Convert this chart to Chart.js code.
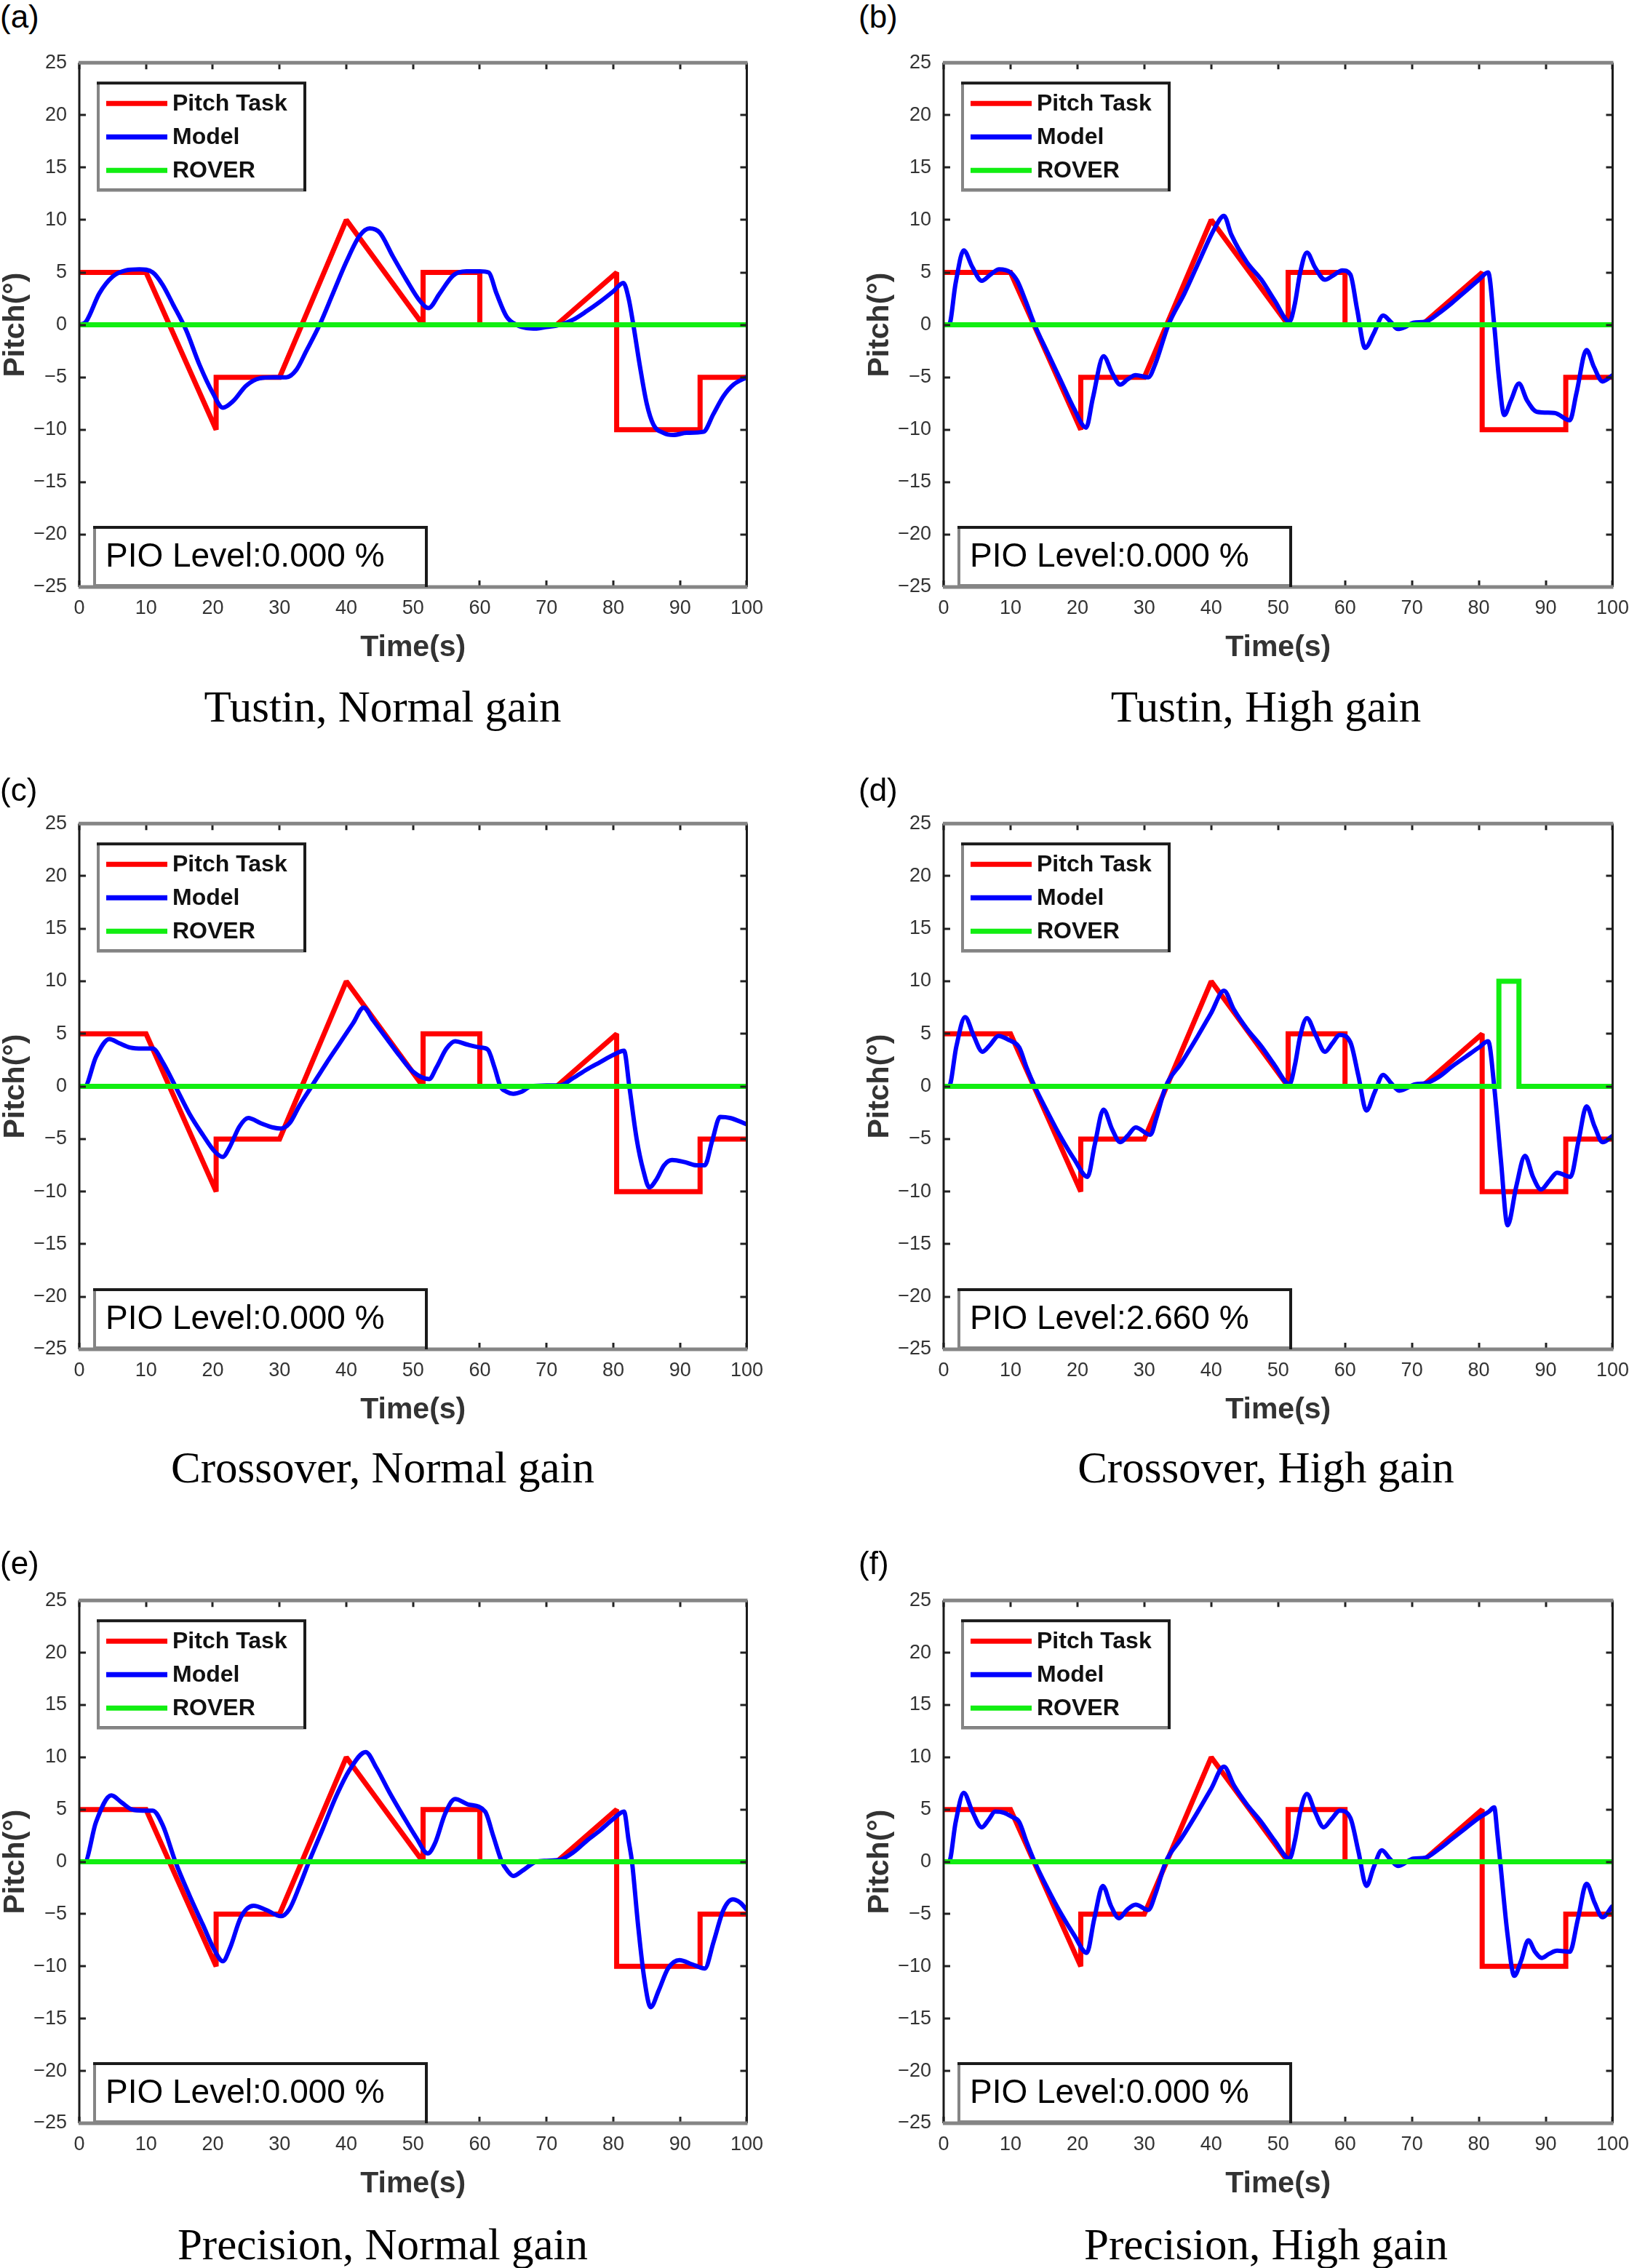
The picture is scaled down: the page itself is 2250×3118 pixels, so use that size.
<!DOCTYPE html>
<html>
<head>
<meta charset="utf-8">
<script src="https://cdn.jsdelivr.net/npm/chart.js@4.4.1/dist/chart.umd.min.js"></script>
<style>
  html, body { margin: 0; padding: 0; background: #fff; }
  #page { position: relative; width: 2250px; height: 3118px; overflow: hidden; background: #fff; }
  #page canvas { position: absolute; }
  .tag { position: absolute; font: 44px "Liberation Sans", Arial, sans-serif; line-height: 44px; color: #000; }
  .cap { position: absolute; width: 900px; text-align: center; font: 61px "Liberation Serif", "Times New Roman", serif; line-height: 61px; color: #000; }
</style>
</head>
<body>
<div id="page"></div>
<script>
// ── Ejes ──────────────────────────────────────────────────────────────────
const X_TICKS = [0, 10, 20, 30, 40, 50, 60, 70, 80, 90, 100]
const Y_TICKS = [-25, -20, -15, -10, -5, 0, 5, 10, 15, 20, 25]

// ── Señales comunes (t, grados) ───────────────────────────────────────────
const TASK = [[0,5],[10,5],[20.5,-10],[20.5,-5],[30,-5],[40,10],[51.5,0],[51.5,5],
  [60,5],[60,0],[71.5,0],[80.5,5],[80.5,-10],[93,-10],[93,-5],[100,-5]]
const ROVER_FLAT = [[0,0],[100,0]]
const ROVER_D = [[0,0],[83,0],[83,10],[86,10],[86,0],[100,0]]

// ── Respuesta del modelo, una por panel ───────────────────────────────────
const MODEL_A = [[0,0],[1,0.3],[3,3],[5,4.6],[7,5.2],[9,5.3],[11,5],[12.5,3.8],[14,2],[16,-0.5],
  [18,-3.8],[20,-6.5],[21.5,-7.9],[23,-7.3],[25,-5.8],[27,-5.1],[29,-5],[31,-5],[32.5,-4.3],[34,-2.5],
  [36,0],[38,3],[40,6],[42,8.5],[43.5,9.2],[45,8.8],[47,6.5],[49,4.3],[51,2.3],[52.3,1.6],[54,3],
  [56,4.7],[58,5.1],[60,5.1],[61.3,5],[62.5,3],[64,0.8],[65.5,0],[67,-0.3],[68.5,-0.35],[70,-0.2],
  [72,0],[74,0.5],[76,1.3],[78,2.2],[80,3.2],[81.5,4],[82.3,2.5],[83,0],[84,-4],[85,-7.5],[86,-9.5],
  [87.5,-10.3],[89,-10.5],[91,-10.3],[93.5,-10.2],[95,-8.5],[96.5,-6.8],[98,-5.7],[100,-5]]
const MODEL_B = [[0,0],[0.8,0],[1.8,4],[3,7.1],[4.3,5.5],[5.7,4.2],[7,4.8],[8.3,5.3],[10,5],[11,4.2],
  [12.3,2.2],[13.6,0],[15.5,-2.6],[17.5,-5.3],[19.5,-8],[21.3,-9.8],[22.3,-7],[23.9,-3],[25.2,-4.6],
  [26.4,-5.7],[27.5,-5.2],[28.7,-4.8],[30.6,-5],[31.6,-3.8],[33.6,0],[36,3],[38.5,6.5],[40.5,9.2],
  [41.9,10.4],[43,8.6],[45.3,6],[47.5,4.3],[49.5,2.3],[51.7,0.3],[52.5,2],[53.3,5],[54.3,6.9],
  [55.5,5.5],[57,4.3],[58.2,4.7],[59.6,5.2],[60.8,4.8],[61.8,1.5],[63,-2.2],[64.3,-0.8],[65.7,0.9],
  [66.8,0.3],[67.9,-0.4],[69,-0.2],[70.2,0.2],[72,0.3],[74,1.1],[76,2.1],[78,3.2],[80,4.3],[81.4,5],
  [82.3,0],[83,-5],[83.8,-8.6],[84.8,-7.2],[86,-5.6],[87.2,-7.2],[88.7,-8.3],[91.3,-8.4],[93.6,-9.1],
  [94.6,-6.5],[96.1,-2.4],[97.2,-4],[98.5,-5.4],[100,-4.8]]
const MODEL_C = [[0,0],[0.8,0],[2.5,2.8],[4.5,4.5],[6,4.1],[7.6,3.7],[9.5,3.6],[11,3.6],[12.5,2.3],
  [14.4,0],[16.5,-2.6],[18.5,-4.6],[20.3,-6.2],[21.5,-6.7],[22.5,-5.8],[24,-3.8],[25.3,-3],[27.2,-3.5],
  [29,-3.9],[30.2,-4],[31.5,-3.5],[33,-1.8],[34.8,0],[37,2.2],[39,4.1],[41,6],[42.6,7.5],[44,6.3],
  [46,4.6],[48,2.9],[50,1.4],[52.4,0.7],[53.5,1.8],[55,3.6],[56.3,4.3],[58,4],[60.1,3.7],[61.2,3.5],
  [62.2,1.8],[63.1,0],[64,-0.5],[65,-0.7],[66.3,-0.5],[67.6,0],[70,0.1],[72,0.1],[74,0.8],[76,1.6],
  [78,2.3],[80,3],[81.6,3.4],[82.4,0],[83.5,-5],[84.5,-8],[85.4,-9.6],[86.5,-8.8],[87.6,-7.5],
  [88.8,-7],[90.7,-7.2],[92.5,-7.5],[93.7,-7.5],[94.8,-5.2],[96,-2.9],[97.5,-3],[100,-3.6]]
const MODEL_D = [[0,0],[0.8,0],[1.9,3.8],[3.2,6.6],[4.5,4.8],[5.8,3.3],[7,4],[8.2,4.8],[9.8,4.4],
  [11.3,3.7],[12.4,1.8],[13.6,0],[15.5,-2.4],[17.5,-4.8],[19.5,-6.9],[21.5,-8.6],[22.6,-5.5],
  [23.9,-2.2],[25.2,-4.1],[26.4,-5.3],[27.5,-4.7],[28.7,-3.9],[30.9,-4.6],[31.8,-3],[33.2,0],
  [35.5,2.2],[38,4.8],[40,7],[41.9,9.1],[43.4,7.3],[45.3,5.5],[47.5,3.8],[49.5,2],[51.7,0.2],[52.5,2],
  [53.3,4.8],[54.3,6.5],[55.6,4.9],[57,3.3],[58.1,4.1],[59.2,4.9],[60.8,4.2],[62,1],[63.2,-2.3],
  [64.4,-0.6],[65.7,1.1],[66.9,0.3],[68.1,-0.4],[70.5,0.2],[72,0.3],[74,0.9],[76,1.9],[78,2.8],
  [80,3.7],[81.4,4.3],[82.3,0],[83.3,-7],[84.3,-13.2],[85.6,-9.5],[86.9,-6.6],[88.1,-8.6],[89.3,-9.8],
  [90.5,-9],[91.7,-8.2],[93.7,-8.6],[94.9,-5.2],[96.1,-1.9],[97.3,-3.8],[98.5,-5.3],[100,-4.7]]
const MODEL_E = [[0,0],[0.8,0],[2.5,3.8],[4.8,6.35],[6.3,5.7],[7.9,5],[9.5,4.9],[11,4.9],[12.5,3.5],
  [14.4,0],[16.5,-3.2],[18.5,-6],[20.3,-8.5],[21.5,-9.5],[22.6,-8.2],[24.2,-5.3],[26.1,-4.2],[28,-4.6],
  [30.2,-5.2],[31.5,-4.5],[33,-2.3],[34.4,0],[36.5,3.2],[38.5,6.3],[40.5,8.8],[42.9,10.5],[44.5,9],
  [46.5,6.6],[48.5,4.4],[50.5,2.3],[52.2,0.8],[53.3,1.8],[54.8,4.6],[56.3,6],[58.2,5.5],[60.8,4.8],
  [62,2.5],[63.3,0],[64.2,-0.9],[65,-1.35],[66.5,-0.8],[68.4,0],[70,0.1],[72,0.2],[74,0.9],[76,2],
  [78,3],[80,4.1],[81.6,4.8],[82.3,2],[82.8,0],[83.7,-6],[84.6,-11],[85.6,-13.9],[86.8,-12.3],
  [88.2,-10.2],[89.9,-9.4],[91.8,-9.8],[93.7,-10.2],[95,-7.7],[96.5,-4.6],[97.9,-3.6],[99,-3.9],[100,-4.6]]
const MODEL_F = [[0,0],[0.8,0],[1.8,3.8],[3,6.6],[4.3,4.8],[5.7,3.3],[6.7,4],[7.7,4.8],[9,4.7],
  [10.2,4.3],[11.3,3.8],[12.4,1.9],[13.6,0],[15.5,-2.5],[17.5,-4.9],[19.5,-7],[21.4,-8.7],[22.5,-5.5],
  [23.8,-2.3],[25,-4.2],[26.2,-5.4],[27.4,-4.6],[28.7,-4.1],[30.6,-4.6],[31.7,-3],[33.2,0],[35.5,2.2],
  [38,4.8],[40,7],[41.9,9.1],[43.4,7.3],[45.3,5.5],[47.5,3.8],[49.5,2],[51.7,0.3],[52.5,2],[53.3,4.8],
  [54.3,6.5],[55.5,4.8],[56.8,3.3],[58,4.1],[59.2,4.9],[60.8,4.2],[62,1],[63.2,-2.3],[64.3,-0.5],
  [65.5,1.1],[66.7,0.3],[67.9,-0.4],[70.2,0.3],[72,0.4],[74,1.2],[76,2.2],[78,3.2],[80,4.2],[81.5,4.8],
  [82.3,5.2],[82.8,2.5],[83.2,0],[84.3,-7],[85.3,-10.9],[86.3,-9.5],[87.4,-7.5],[88.4,-8.6],[89.4,-9.2],
  [90.5,-8.8],[91.7,-8.5],[93.6,-8.6],[94.8,-5.5],[96.1,-2.1],[97.3,-3.9],[98.5,-5.3],[100,-4.2]]

const MODELS = [MODEL_A, MODEL_B, MODEL_C, MODEL_D, MODEL_E, MODEL_F]
const ROVERS = [ROVER_FLAT, ROVER_FLAT, ROVER_FLAT, ROVER_D, ROVER_FLAT, ROVER_FLAT]
const PIO_LEVELS = ["0.000", "0.000", "0.000", "2.660", "0.000", "0.000"]
const TAGS = ["(a)", "(b)", "(c)", "(d)", "(e)", "(f)"]
const CAPTIONS = ["Tustin, Normal gain", "Tustin, High gain", "Crossover, Normal gain",
  "Crossover, High gain", "Precision, Normal gain", "Precision, High gain"]
const SERIES = ["Pitch Task", "Model", "ROVER"]

// ── Maquetación (px de la página) ─────────────────────────────────────────
const COL_LEFT = [109, 1297]
const COL_W    = [928, 930]
const ROW_TOP  = [83, 1129, 2197]
const ROW_H    = [724, 726, 722]
const TAG_X    = [0, 1180]
const TAG_Y    = [23, 1086, 2149]
const CAP_X    = [526, 1740]
const CAP_Y    = [972, 2018, 3086]
const AXIS_W = 109, AXIS_H = 130, PAD_T = 30, PAD_R = 25

const RED = "#ff0000", BLUE = "#0000ff", GREEN = "#11ee11"
const DARK = "#1a1a1a", GREY = "#858585"
const SANS = "'Liberation Sans', Arial, sans-serif"

const toXY = arr => arr.map(([x, y]) => ({ x, y }))

// Caja con borde negro arriba/derecha y gris a la izquierda/abajo
function framedBox(ctx, x, y, w, h) {
  ctx.fillStyle = "#fff"
  ctx.fillRect(x, y, w, h)
  ctx.lineWidth = 4
  ctx.strokeStyle = DARK
  ctx.strokeRect(x, y, w, h)
  ctx.strokeStyle = GREY
  ctx.beginPath()
  ctx.moveTo(x, y + 2); ctx.lineTo(x, y + h); ctx.lineTo(x + w - 2, y + h)
  ctx.stroke()
}

// Marco, marcas hacia dentro, leyenda y recuadro PIO
const decor = {
  id: "decor",
  beforeDatasetsDraw(chart) {
    // evita los picos de inglete en los vértices agudos de la consigna
    chart.ctx.miterLimit = 2
  },
  afterDatasetsDraw(chart, args, opts) {
    const { ctx, chartArea: a, scales: { x, y } } = chart
    ctx.save()
    ctx.lineCap = "butt"

    // marcas
    ctx.strokeStyle = "#222"
    ctx.lineWidth = 3
    ctx.beginPath()
    X_TICKS.forEach(v => {
      const px = Math.round(x.getPixelForValue(v))
      ctx.moveTo(px, a.bottom); ctx.lineTo(px, a.bottom - 9)
      ctx.moveTo(px, a.top);    ctx.lineTo(px, a.top + 9)
    })
    Y_TICKS.forEach(v => {
      const py = Math.round(y.getPixelForValue(v))
      ctx.moveTo(a.left, py);  ctx.lineTo(a.left + 9, py)
      ctx.moveTo(a.right, py); ctx.lineTo(a.right - 9, py)
    })
    ctx.stroke()

    // marco: laterales oscuros, arriba y abajo grises
    ctx.lineWidth = 3
    ctx.strokeStyle = DARK
    ctx.beginPath()
    ctx.moveTo(a.left, a.top); ctx.lineTo(a.left, a.bottom)
    ctx.moveTo(a.right, a.top); ctx.lineTo(a.right, a.bottom)
    ctx.stroke()
    ctx.lineWidth = 5
    ctx.strokeStyle = GREY
    ctx.beginPath()
    ctx.moveTo(a.left - 1, a.top); ctx.lineTo(a.right + 1, a.top)
    ctx.moveTo(a.left - 1, a.bottom); ctx.lineTo(a.right + 1, a.bottom)
    ctx.stroke()

    // leyenda
    const lx = a.left + 26, ly = a.top + 28
    framedBox(ctx, lx, ly, 284, 147)
    ctx.font = "bold 32px " + SANS
    ctx.textBaseline = "middle"
    chart.data.datasets.forEach((ds, i) => {
      const ry = ly + 28 + i * 46
      ctx.strokeStyle = ds.borderColor
      ctx.lineWidth = 7
      ctx.beginPath()
      ctx.moveTo(lx + 11, ry); ctx.lineTo(lx + 95, ry)
      ctx.stroke()
      ctx.fillStyle = "#111"
      ctx.fillText(ds.label, lx + 102, ry + 1)
    })

    // recuadro PIO
    const bx = a.left + 21, bh = 80, by = a.bottom - bh - 2
    framedBox(ctx, bx, by, 456, bh)
    ctx.font = "46px " + SANS
    ctx.fillStyle = "#000"
    ctx.fillText("PIO Level:" + opts.pio + " %", bx + 15, by + 41)
    ctx.restore()
  }
}

function buildPanel(i) {
  const page = document.getElementById("page")
  const col = i % 2, row = Math.floor(i / 2)

  const canvas = document.createElement("canvas")
  const w = AXIS_W + COL_W[col] + PAD_R
  const h = PAD_T + ROW_H[row] + AXIS_H
  canvas.width = w
  canvas.height = h
  canvas.style.left = (COL_LEFT[col] - AXIS_W) + "px"
  canvas.style.top = (ROW_TOP[row] - PAD_T) + "px"
  canvas.style.width = w + "px"
  canvas.style.height = h + "px"
  page.appendChild(canvas)

  const tag = document.createElement("div")
  tag.className = "tag"
  tag.textContent = TAGS[i]
  tag.style.left = TAG_X[col] + "px"
  tag.style.top = (TAG_Y[row] - 22) + "px"
  page.appendChild(tag)

  const cap = document.createElement("div")
  cap.className = "cap"
  cap.textContent = CAPTIONS[i]
  cap.style.left = (CAP_X[col] - 450) + "px"
  cap.style.top = (CAP_Y[row] - 31) + "px"
  page.appendChild(cap)

  const tickFont = { family: SANS, size: 27 }
  const titleFont = { family: SANS, size: 41, weight: "bold", lineHeight: 1 }

  new Chart(canvas, {
    type: "line",
    data: {
      datasets: [
        { label: SERIES[0], data: toXY(TASK), borderColor: RED, borderWidth: 7,
          tension: 0, borderJoinStyle: "miter", order: 3 },
        { label: SERIES[1], data: toXY(MODELS[i]), borderColor: BLUE, borderWidth: 6,
          cubicInterpolationMode: "monotone", borderJoinStyle: "round", order: 2 },
        { label: SERIES[2], data: toXY(ROVERS[i]), borderColor: GREEN, borderWidth: 7,
          tension: 0, borderJoinStyle: "miter", order: 1 }
      ]
    },
    options: {
      responsive: false,
      animation: false,
      devicePixelRatio: 1,
      layout: { padding: { top: PAD_T, right: PAD_R, left: 0, bottom: 0 } },
      elements: { point: { radius: 0, hoverRadius: 0 } },
      plugins: {
        legend: { display: false },
        tooltip: { enabled: false },
        decor: { pio: PIO_LEVELS[i] }
      },
      scales: {
        x: {
          type: "linear", min: 0, max: 100,
          afterBuildTicks: s => { s.ticks = X_TICKS.map(v => ({ value: v })) },
          afterFit: s => { s.height = AXIS_H },
          grid: { display: false, drawTicks: false },
          border: { display: false },
          ticks: { padding: 13, font: tickFont, color: "#333", maxRotation: 0, autoSkip: false },
          title: { display: true, text: "Time(s)", font: titleFont, color: "#333",
                   padding: { top: 0, bottom: 26 } }
        },
        y: {
          type: "linear", min: -25, max: 25,
          afterBuildTicks: s => { s.ticks = Y_TICKS.map(v => ({ value: v })) },
          afterFit: s => { s.width = AXIS_W },
          grid: { display: false, drawTicks: false },
          border: { display: false },
          ticks: { padding: 17, font: tickFont, color: "#333", autoSkip: false,
                   callback: v => v < 0 ? "\u2212" + Math.abs(v) : String(v) },
          title: { display: true, text: "Pitch(\u00b0)", font: titleFont, color: "#333",
                   padding: { top: 1, bottom: 0 } }
        }
      }
    },
    plugins: [decor]
  })
}

for (let i = 0; i < 6; i++) buildPanel(i)
</script>
</body>
</html>
